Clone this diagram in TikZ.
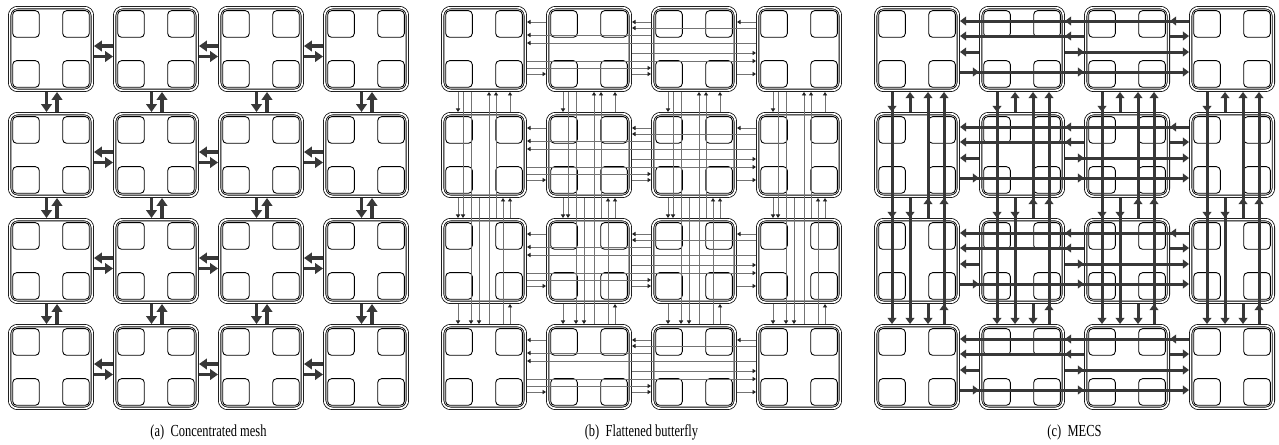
\documentclass[tikz,border=0pt]{standalone}
\usepackage{fontspec}
\setmainfont{Liberation Serif}
\newfontfamily\capfont[FakeStretch=0.74]{Liberation Serif}
\usetikzlibrary{arrows.meta, calc}

\begin{document}
\begin{tikzpicture}[
    x=0.02cm, y=-0.02cm,
    tile/.style={draw, double, double distance=0.95pt, line width=0.45pt, rounded corners=4.5pt, minimum width=1.72cm-1.85pt, minimum height=1.72cm-1.85pt, outer sep=0.92pt, inner sep=0pt},
    core/.style={draw, line width=0.5pt, rounded corners=2.2pt, minimum size=0.55cm-0.5pt, inner sep=0pt},
    mesharr/.style={-{Triangle[length=4.5pt, width=6pt]}, line width=2pt, draw=black!78, fill=black!78},
    fbfarr/.style={-{Triangle[length=2pt, width=2.4pt, color=black!85]}, line width=0.45pt, draw=black!55},
    mecsarr/.style={-{Triangle[length=3.5pt, width=5pt]}, line width=1.7pt, draw=black!78, fill=black!78},
    caption/.style={font=\capfont\fontsize{9.6}{11}\selectfont, inner sep=0pt}
]
\useasboundingbox (0,0) rectangle (1279,445);

% tiles with four cores each
\foreach \p/\pn in {0/a,1/b,2/c} {
  \foreach \r in {1,...,4} {
    \foreach \c in {1,...,4} {
      \node[tile] (\pn-\r-\c) at ({8+433*\p+105*(\c-1)+43}, {6+106*(\r-1)+43}) {};
      \foreach \i/\j in {1/1,1/2,2/1,2/2}
        \node[core] (\pn-\r-\c-\i\j) at ($(\pn-\r-\c)+({50*\j-75},{50*\i-75})$) {};
    }
  }
}

% (a) concentrated mesh
\foreach \r in {1,...,4} \foreach \c/\n in {1/2,2/3,3/4} {
  \draw[mesharr] ($(a-\r-\n.north west)+(0,40)$) -- ($(a-\r-\c.north east)+(0,40)$);
  \draw[mesharr] ($(a-\r-\c.north east)+(0,50.5)$) -- ($(a-\r-\n.north west)+(0,50.5)$);
}
\foreach \c in {1,...,4} \foreach \r/\n in {1/2,2/3,3/4} {
  \draw[mesharr] ($(a-\r-\c.south west)+(38.5,0)$) -- ($(a-\n-\c.north west)+(38.5,0)$);
  \draw[mesharr] ($(a-\n-\c.north west)+(49,0)$) -- ($(a-\r-\c.south west)+(49,0)$);
}

% (b) flattened butterfly
\foreach \r in {1,...,4}
  \foreach \s/\t/\d/\sa/\ta in {1/2/68/north east/north west, 2/3/68/north east/north west, 3/4/68/north east/north west,
      1/3/62/north east/north west, 1/4/55/north east/north west, 2/4/47/north east/north west,
      2/1/16/north west/north east, 3/2/16/north west/north east, 4/3/16/north west/north east,
      4/2/22/north west/north east, 3/1/29/north west/north east, 4/1/37/north west/north east}
    \draw[fbfarr] ($(b-\r-\s.\sa)+(0,\d)$) -- ($(b-\r-\t.\ta)+(0,\d)$);
\foreach \c in {1,...,4}
  \foreach \s/\t/\d/\sa/\ta in {1/2/17/south west/north west, 2/3/17/south west/north west, 3/4/17/south west/north west,
      1/3/22/south west/north west, 1/4/30/south west/north west, 2/4/38/south west/north west,
      2/1/69/north west/south west, 3/2/69/north west/south west, 4/3/69/north west/south west,
      4/2/62/north west/south west, 3/1/55/north west/south west, 4/1/48/north west/south west}
    \draw[fbfarr] ($(b-\s-\c.\sa)+(\d,0)$) -- ($(b-\t-\c.\ta)+(\d,0)$);

% (c) MECS
\foreach \r in {1,...,4}
  \foreach \s/\t/\d/\sa/\ta in {1/2/66/north east/north west, 1/3/66/north east/north west, 1/4/66/north east/north west,
      2/3/46/north east/north west, 2/4/46/north east/north west, 3/4/30/north east/north west,
      4/3/15/north west/north east, 4/2/15/north west/north east, 4/1/15/north west/north east,
      3/2/30/north west/north east, 3/1/30/north west/north east, 2/1/46/north west/north east}
    \draw[mecsarr] ($(c-\r-\s.\sa)+(0,\d)$) -- ($(c-\r-\t.\ta)+(0,\d)$);
\foreach \c in {1,...,4}
  \foreach \s/\t/\d/\sa/\ta in {1/2/18/south west/north west, 1/3/18/south west/north west, 1/4/18/south west/north west,
      2/3/36/south west/north west, 2/4/36/south west/north west, 3/4/54/south west/north west,
      4/3/70/north west/south west, 4/2/70/north west/south west, 4/1/70/north west/south west,
      3/2/54/north west/south west, 3/1/54/north west/south west, 2/1/36/north west/south west}
    \draw[mecsarr] ($(c-\s-\c.\sa)+(\d,0)$) -- ($(c-\t-\c.\ta)+(\d,0)$);

\node[caption] (capa) at (208.5,432) {(a)\ \ Concentrated mesh};
\node[caption] (capb) at (641.5,432) {(b)\ \ Flattened butterfly};
\node[caption] (capc) at (1074.5,432) {(c)\ \ MECS};
\end{tikzpicture}
\end{document}
